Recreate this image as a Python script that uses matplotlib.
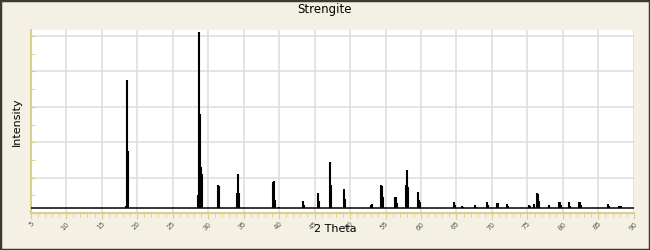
import matplotlib.pyplot as plt
from matplotlib.patches import Rectangle

# peak positions (2 theta) and intensities
two_theta = [18.46, 18.6, 18.75,
             28.6, 28.75, 28.89, 29.03, 29.17,
             31.42, 31.56,
             34.1, 34.24, 34.38,
             39.17, 39.3, 39.45, 40.0,
             43.4, 43.54,
             45.5, 45.65,
             47.2, 47.34,
             49.17, 49.3,
             52.97, 53.1,
             54.38, 54.5, 54.66,
             56.35, 56.5, 56.6,
             57.9, 58.04, 58.18,
             59.6, 59.73, 59.87,
             64.66, 64.8,
             65.8, 65.94,
             67.6, 67.76,
             69.35, 69.5,
             70.65, 70.8,
             72.1, 72.26,
             75.2, 75.35,
             75.9, 76.3, 76.45, 76.6,
             78.0, 78.1,
             79.45, 79.6, 79.7,
             80.8, 80.95,
             82.3, 82.45, 82.6,
             86.35, 86.5,
             87.9, 88.2]
intensity = [4, 75, 35,
             10, 102, 56, 26, 22,
             15.8, 15.3,
             11.5, 22, 11.5,
             17.3, 17.9, 7.3, 3.6,
             6.8, 4.5,
             11.5, 6.8,
             28.8, 15.8,
             13.6, 7.9,
             4.3, 5.0,
             15.8, 15.4, 9.2,
             8.9, 8.9, 5.5,
             15.8, 24.3, 14.5,
             11.7, 7.3, 6.2,
             6.2, 4.5,
             4.0, 3.4,
             4.5, 3.4,
             6.2, 4.5,
             5.6, 5.4,
             5.1, 4.0,
             4.5, 4.2,
             4.9, 11.3, 11.0, 6.8,
             4.5, 3.6,
             6.2, 6.2, 4.5,
             6.2, 4.0,
             6.2, 6.0, 4.5,
             5.1, 4.0,
             4.0, 4.0]
baseline = 2.7

bg = '#f4f1e4'
axis_col = '#d9cf8c'

fig = plt.figure(figsize=(6.5, 2.5), dpi=100, facecolor=bg)
ax = fig.add_axes([0.0472, 0.148, 0.928, 0.732])
ax.set_facecolor('white')

ax.plot([5, 90], [baseline, baseline], color='black', lw=1.1, zorder=3)
ax.vlines(two_theta, baseline, intensity, color='black', lw=1.5, zorder=3)

ax.set_xlim(5, 90)
ax.set_ylim(0, 103.4)
ax.set_xticks(range(5, 91, 5))
ax.set_xticks(range(5, 91, 1), minor=True)
ax.set_yticks(range(0, 101, 20))
ax.set_yticks(range(0, 101, 10), minor=True)
ax.set_yticklabels([])
ax.grid(True, which='major', color='#dcdcdc', lw=1.1, zorder=0)

for s in ['top', 'right']:
    ax.spines[s].set_visible(False)
for s in ['left', 'bottom']:
    ax.spines[s].set_color(axis_col)
    ax.spines[s].set_linewidth(1.5)

ax.tick_params(axis='x', which='both', direction='out', color=axis_col,
               labelsize=5, labelcolor='#555555', pad=1.5)
ax.tick_params(axis='x', which='major', length=4)
ax.tick_params(axis='x', which='minor', length=3)
ax.tick_params(axis='y', which='both', direction='in', color=axis_col, length=3)
for lab in ax.get_xticklabels():
    lab.set_rotation(45)
    lab.set_ha('right')
    lab.set_va('top')
    lab.set_rotation_mode('anchor')

ax.set_xlabel('2 Theta', fontsize=8)
ax.xaxis.set_label_coords(0.505, -0.06)
ax.set_ylabel('Intensity', fontsize=8, labelpad=3)
fig.text(0.5, 0.96, 'Strengite', ha='center', va='center', fontsize=8.5)

fig.patches.append(Rectangle((0, 0), 1, 1, transform=fig.transFigure,
                             fill=False, edgecolor='#3b3a32', lw=2.5))

fig.savefig('out.png', dpi=100, facecolor=bg)
